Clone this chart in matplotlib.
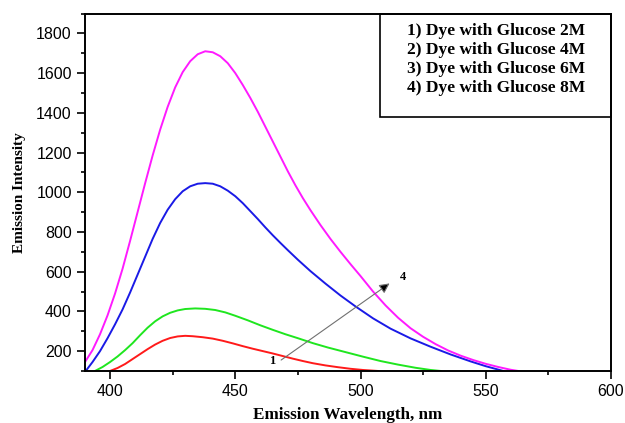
import matplotlib
matplotlib.use("Agg")
import matplotlib.pyplot as plt
from matplotlib.patches import Rectangle
from matplotlib.ticker import MultipleLocator

# ---------------------------------------------------------------------------
# data (wavelength nm, emission intensity)
# ---------------------------------------------------------------------------
wl_2M = [400, 403, 406, 409, 412, 415, 418, 421, 424, 427, 430, 433, 437, 441,
         445, 449, 453, 457, 461, 465, 469, 473, 477, 481, 486, 491, 496, 501, 507]
int_2M = [100, 115, 135, 160, 185, 210, 233, 252, 266, 274, 277, 275, 270, 263,
          252, 239, 225, 212, 200, 188, 175, 162, 150, 139, 128, 119, 111, 105, 100]

wl_4M = [394, 397, 400, 403, 406, 409, 412, 415, 418, 421, 424, 427, 430, 434,
         438, 442, 446, 450, 455, 460, 465, 470, 475, 481, 487, 494, 501, 508,
         515, 522, 528, 532]
int_4M = [100, 120, 145, 173, 205, 240, 280, 318, 350, 375, 393, 405, 412, 415,
          413, 407, 395, 378, 355, 330, 307, 285, 265, 240, 218, 195, 172, 150,
          132, 116, 105, 100]

wl_6M = [390, 393, 396, 399, 402, 405, 408, 411, 414, 417, 420, 423, 426, 429,
         432, 435, 438, 441, 444, 447, 450, 453, 456, 459, 462, 465, 468, 471,
         475, 480, 486, 492, 498, 505, 512, 520, 528, 536, 544, 550, 557]
int_6M = [95, 145, 200, 265, 335, 410, 495, 585, 675, 765, 845, 912, 965, 1005,
          1030, 1043, 1046, 1043, 1030, 1008, 980, 945, 905, 865, 823, 783, 745,
          708, 660, 603, 540, 480, 425, 365, 313, 264, 222, 183, 148, 124, 100]

wl_8M = [390, 393, 396, 399, 402, 405, 408, 411, 414, 417, 420, 423, 426, 429,
         432, 435, 438, 441, 444, 447, 450, 453, 456, 459, 462, 465, 468, 471,
         474, 477, 480, 484, 488, 492, 496, 500, 505, 510, 515, 520, 525, 530,
         535, 540, 545, 550, 555, 560, 563]
int_8M = [145, 205, 285, 380, 490, 615, 755, 900, 1045, 1185, 1315, 1430, 1528,
          1605, 1660, 1695, 1710, 1705, 1685, 1650, 1600, 1540, 1475, 1405, 1330,
          1255, 1180, 1105, 1035, 970, 910, 835, 765, 700, 638, 578, 500, 430,
          368, 315, 272, 235, 203, 177, 155, 136, 120, 106, 100]

series = [(wl_2M, int_2M, "#ff1a1a"),
          (wl_4M, int_4M, "#1fe61f"),
          (wl_6M, int_6M, "#1a1ae6"),
          (wl_8M, int_8M, "#ff1aff")]

legend_lines = ["1) Dye with Glucose 2M",
                "2) Dye with Glucose 4M",
                "3) Dye with Glucose 6M",
                "4) Dye with Glucose 8M"]

SERIF = "Liberation Serif"
SANS = "Liberation Sans"

fig = plt.figure(figsize=(6.25, 4.23), dpi=100)
ax = fig.add_axes([0.136, 0.123, 0.8416, 0.845])

for wl, inten, col in series:
    ax.plot(wl, inten, color=col, lw=1.4, solid_joinstyle="round")

ax.set_xlim(390, 600)
ax.set_ylim(100, 1900)
ax.set_xticks([400, 450, 500, 550, 600])
ax.set_yticks(range(200, 1801, 200))
ax.xaxis.set_minor_locator(MultipleLocator(25))
ax.yaxis.set_minor_locator(MultipleLocator(100))
ax.tick_params(which="both", direction="out", top=False, right=False,
               width=1.2, labelsize=11.5)
ax.tick_params(which="major", length=6)
ax.tick_params(which="minor", length=3)
for lab in ax.get_xticklabels() + ax.get_yticklabels():
    lab.set_fontfamily(SANS)
for sp in ax.spines.values():
    sp.set_linewidth(1.4)

ax.set_xlabel("Emission Wavelength, nm", family=SERIF, weight="bold",
              fontsize=12.3, labelpad=6)
ax.set_ylabel("Emission Intensity", family=SERIF, weight="bold",
              fontsize=11, labelpad=7)

# legend box (top/right edges on the spines)
ax.add_patch(Rectangle((0.561, 0.71), 0.439, 0.29, transform=ax.transAxes,
                       fill=False, ec="black", lw=1.2, clip_on=False))
for i, txt in enumerate(legend_lines):
    ax.text(0.612, 0.95 - i * 0.053, txt, transform=ax.transAxes,
            family=SERIF, weight="bold", fontsize=12.5, va="center", ha="left")

# arrow 1 -> 4
ax.annotate("", xy=(511.6, 541), xytext=(468.3, 155),
            arrowprops=dict(arrowstyle="-|>", ec="#707070", fc="black",
                            lw=0.8, mutation_scale=15, shrinkA=0, shrinkB=0))
ax.text(464.7, 150, "1", family=SERIF, weight="bold", fontsize=9,
        ha="center", va="center")
ax.text(517, 575, "4", family=SERIF, weight="bold", fontsize=9,
        ha="center", va="center")

fig.savefig("out.png", dpi=100)
